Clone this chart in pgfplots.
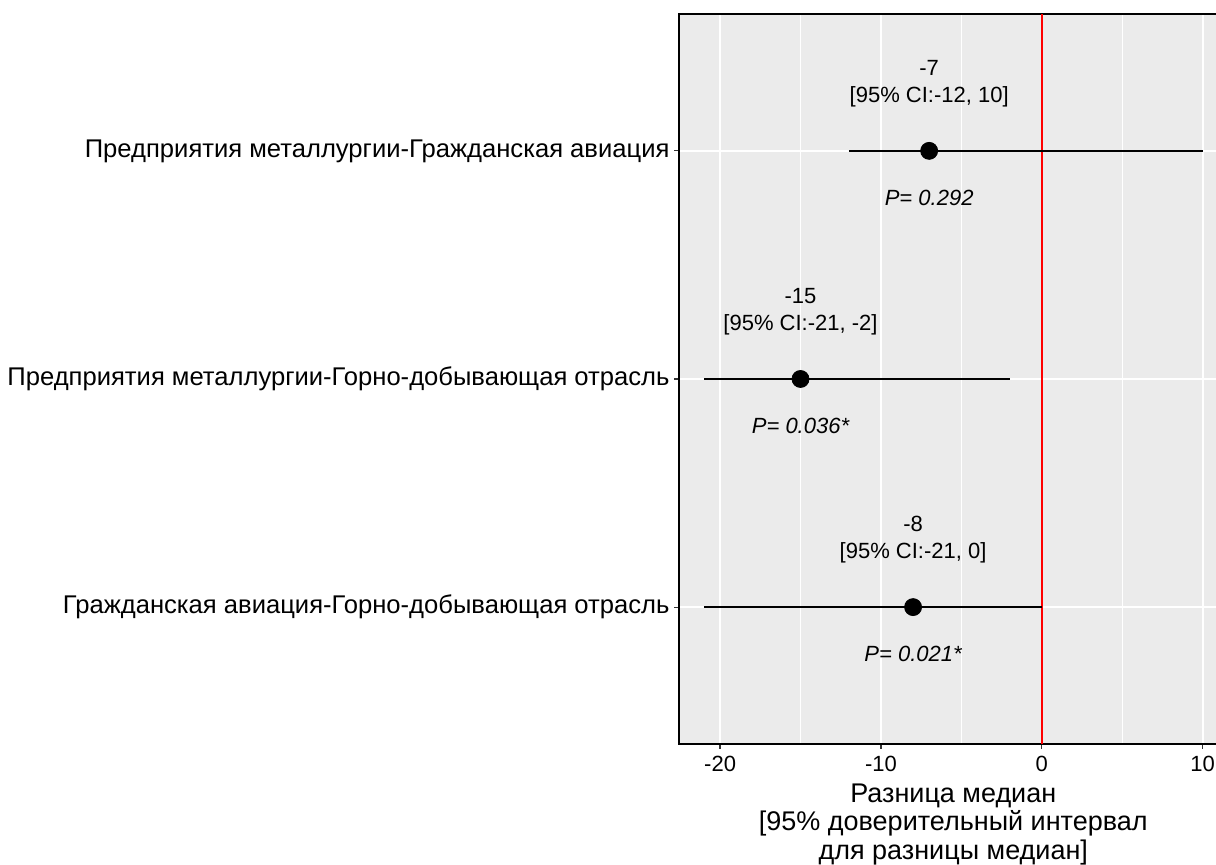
\documentclass[border=0pt]{standalone}
\usepackage{fontspec}
\setmainfont{Liberation Sans}
\usepackage{pgfplots}
\pgfplotsset{compat=1.18}
\usetikzlibrary{calc}
\definecolor{panelbg}{HTML}{EBEBEB}
\begin{document}
\begin{tikzpicture}
\begin{axis}[
  name=ax,
  scale only axis,
  width=274.2pt, height=365pt,
  xmin=-22.55, xmax=11.55, ymin=0.4, ymax=3.6,
  xtick={-20,-10,0,10}, minor xtick={-15,-5,5},
  ytick={1,2,3},
  yticklabels={Гражданская авиация-Горно-добывающая отрасль,Предприятия металлургии-Горно-добывающая отрасль,Предприятия металлургии-Гражданская авиация},
  grid=both,
  major grid style={white, line width=1pt},
  minor grid style={white, line width=0.5pt},
  axis background/.style={fill=panelbg},
  axis line style={black, line width=1pt},
  tick style={black!80, line width=0.6pt},
  tick align=outside,
  major tick length=2.5pt,
  minor tick length=0pt,
  xtick pos=bottom, ytick pos=left,
  /pgf/number format/assume math mode=true,
  xticklabel style={font=\fontsize{11}{13}\selectfont, text=black},
  yticklabel style={font=\fontsize{12.8}{14}\selectfont, text=black, xshift=1.2pt},
  xlabel={Разница медиан\\{[}95\% доверительный интервал\\для разницы медиан{]}},
  xlabel style={font=\fontsize{13.5}{14.2}\selectfont, align=center, at={(rel axis cs:0.5,0)}, anchor=north, inner sep=0pt, yshift=-19.8pt},
]
\addplot[red, line width=0.8pt] coordinates {(0,0.4) (0,3.6)};
\addplot[black, line width=1.1pt] coordinates {(-12,3) (10,3)};
\addplot[black, line width=1.1pt] coordinates {(-21,2) (-2,2)};
\addplot[black, line width=1.1pt] coordinates {(-21,1) (0,1)};
\addplot[only marks, mark=*, mark size=4.25pt, black] coordinates {(-7,3) (-15,2) (-8,1)};
\node[font=\fontsize{11}{13}\selectfont] at (axis cs:-7,3.364) {-7};
\node[font=\fontsize{11}{13}\selectfont] at (axis cs:-7,3.237) {[95\% CI:-12, 10]};
\node[font=\fontsize{11}{13}\selectfont\itshape] at (axis cs:-7,2.794) {P= 0.292};
\node[font=\fontsize{11}{13}\selectfont] at (axis cs:-15,2.364) {-15};
\node[font=\fontsize{11}{13}\selectfont] at (axis cs:-15,2.237) {[95\% CI:-21, -2]};
\node[font=\fontsize{11}{13}\selectfont\itshape] at (axis cs:-15,1.794) {P= 0.036*};
\node[font=\fontsize{11}{13}\selectfont] at (axis cs:-8,1.364) {-8};
\node[font=\fontsize{11}{13}\selectfont] at (axis cs:-8,1.237) {[95\% CI:-21, 0]};
\node[font=\fontsize{11}{13}\selectfont\itshape] at (axis cs:-8,0.794) {P= 0.021*};
\end{axis}
\pgfresetboundingbox
\path[use as bounding box] ($(ax.south west)+(-339.55pt,-60.5pt)$) rectangle ($(ax.south west)+(268.45pt,372pt)$);
\end{tikzpicture}
\end{document}
